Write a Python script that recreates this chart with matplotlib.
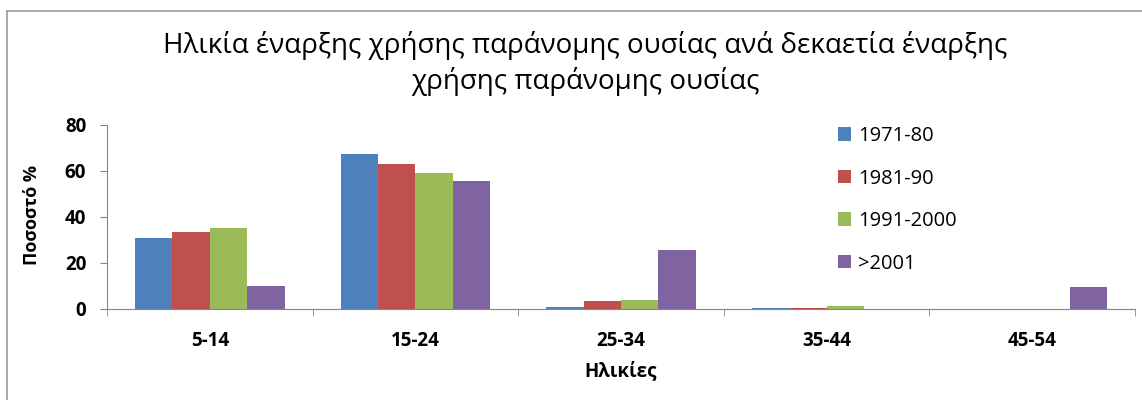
import numpy as np
import matplotlib.pyplot as plt
from matplotlib.lines import Line2D

plt.rcParams['font.family'] = ['Open Sans', 'DejaVu Sans']

ages = ['5-14', '15-24', '25-34', '35-44', '45-54']
decades = ['1971-80', '1981-90', '1991-2000', '>2001']
s1971 = [31.0, 67.6, 1.0, 0.5, 0.0]
s1981 = [33.4, 63.1, 3.6, 0.5, 0.0]
s1991 = [35.4, 59.1, 4.0, 1.5, 0.0]
s2001 = [9.8, 55.6, 25.5, 0.0, 9.6]
colors = ['#4F81BD', '#C0504D', '#9BBB59', '#8064A2']

fig = plt.figure(figsize=(11.42, 4.0), dpi=100)
W, H = 1142, 400
ax = fig.add_axes([107 / W, 1 - 309 / H, (1135 - 107) / W, (309 - 125) / H])

x = np.arange(len(ages))
w = 0.182
for i, (vals, lab) in enumerate(zip([s1971, s1981, s1991, s2001], decades)):
    ax.bar(x + (i - 1.5) * w, vals, w, color=colors[i], label=lab)

ax.set_xlim(-0.5, 4.5)
ax.set_ylim(0, 80)
ax.set_yticks([0, 20, 40, 60, 80])
ax.set_xticks(x)
ax.set_xticklabels(ages)
ax.set_xticks(np.arange(-0.5, 5, 1), minor=True)
ax.tick_params(axis='x', which='major', length=0, pad=16)
ax.tick_params(axis='x', which='minor', length=5, color='#868686', direction='out')
ax.tick_params(axis='y', length=5, color='#868686', pad=10)
for lbl in ax.get_xticklabels() + ax.get_yticklabels():
    lbl.set_fontsize(13.5)
    lbl.set_fontweight('bold')
for s in ['top', 'right']:
    ax.spines[s].set_visible(False)
for s in ['left', 'bottom']:
    ax.spines[s].set_color('#868686')

fig.text(585 / W, 1 - 45 / H, 'Ηλικία έναρξης χρήσης παράνομης ουσίας ανά δεκαετία έναρξης',
         ha='center', va='center', fontsize=20)
fig.text(585 / W, 1 - 82 / H, 'χρήσης παράνομης ουσίας',
         ha='center', va='center', fontsize=20)
fig.text(32 / W, 1 - 215 / H, 'Ποσοστό %', rotation=90, ha='center', va='center',
         fontsize=13, fontweight='bold')
fig.text(621 / W, 1 - 371 / H, 'Ηλικίες', ha='center', va='center',
         fontsize=13.5, fontweight='bold')

ax.legend(loc='upper left', bbox_to_anchor=(820 / W, 1 - 108 / H), bbox_transform=fig.transFigure,
          frameon=False, fontsize=14.5, handlelength=0.65, handleheight=0.65,
          handletextpad=0.35, labelspacing=1.12)

fig.lines.append(Line2D([7 / W, 7 / W], [0, 1 - 11 / H], transform=fig.transFigure,
                        color='#9a9a9a', linewidth=1.2))
fig.lines.append(Line2D([7 / W, 1], [1 - 11 / H, 1 - 11 / H], transform=fig.transFigure,
                        color='#9a9a9a', linewidth=1.2))

fig.savefig('out.png', dpi=100)
